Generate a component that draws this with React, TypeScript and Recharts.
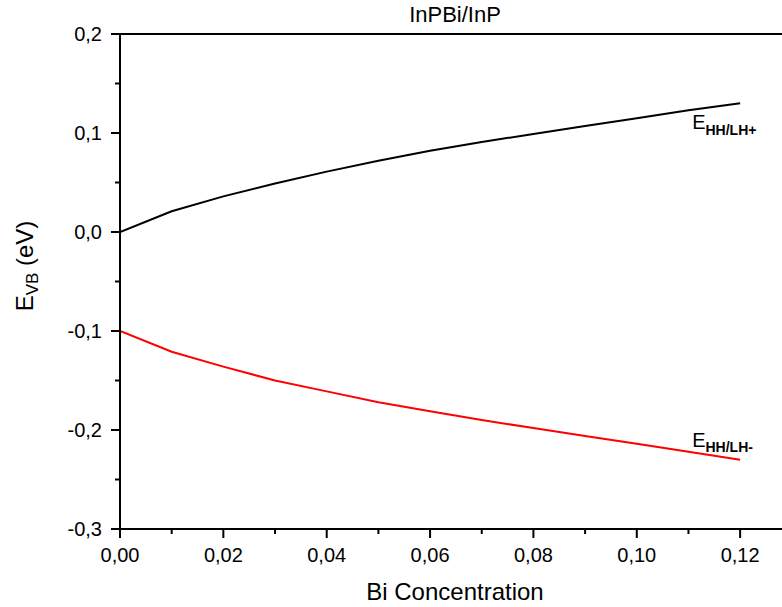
import React from 'react';
import { LineChart, Line, XAxis, YAxis, ReferenceLine, ReferenceDot } from 'recharts';

const biConcentration = [0, 0.01, 0.02, 0.03, 0.04, 0.05, 0.06, 0.07, 0.08, 0.09, 0.1, 0.11, 0.12];
const eHHLHPlus = [0, 0.021, 0.036, 0.049, 0.061, 0.072, 0.082, 0.091, 0.099, 0.107, 0.115, 0.123, 0.13];
const eHHLHMinus = [-0.1, -0.121, -0.136, -0.15, -0.161, -0.172, -0.181, -0.19, -0.198, -0.206, -0.214, -0.222, -0.23];

const xTicks = [0, 0.01, 0.02, 0.03, 0.04, 0.05, 0.06, 0.07, 0.08, 0.09, 0.1, 0.11, 0.12];
const yTicks = [-0.3, -0.25, -0.2, -0.15, -0.1, -0.05, 0, 0.05, 0.1, 0.15, 0.2];

const data = biConcentration.map((x, i) => ({
  x,
  plus: eHHLHPlus[i],
  minus: eHHLHMinus[i],
}));

const FONT = '"Liberation Sans", Arial, sans-serif';

const YTick = (props: any) => {
  const { x, y, payload } = props;
  const v = payload.value;
  const major = Math.abs(Math.round(v * 100)) % 10 === 0;
  return (
    <g>
      <line x1={x} y1={y} x2={x - (major ? 9 : 5)} y2={y} stroke="#000" strokeWidth={2} />
      {major && (
        <text x={x - 18} y={y + 7} textAnchor="end" fontSize={20} fontFamily={FONT} fill="#000">
          {v.toFixed(1).replace('.', ',')}
        </text>
      )}
    </g>
  );
};

const XTick = (props: any) => {
  const { x, y, payload } = props;
  const v = payload.value;
  const major = Math.round(v * 100) % 2 === 0;
  return (
    <g>
      <line x1={x} y1={y} x2={x} y2={y + (major ? 9 : 5)} stroke="#000" strokeWidth={2} />
      {major && (
        <text x={x} y={y + 33} textAnchor="middle" fontSize={20} fontFamily={FONT} fill="#000">
          {v.toFixed(2).replace('.', ',')}
        </text>
      )}
    </g>
  );
};

const curveLabel = (dy: number, subDy: number, sign: string) => (props: any) => {
  const { viewBox } = props;
  return (
    <text x={viewBox.x - 48} y={viewBox.y + dy} fontFamily={FONT} fill="#000" fontSize={20}>
      E
      <tspan dy={subDy} fontSize={14} fontWeight="bold">
        {'HH/LH' + sign}
      </tspan>
    </text>
  );
};

export default function App() {
  return (
    <div style={{ position: 'absolute', left: 0, top: 0, width: 782, height: 607, overflow: 'hidden', background: '#fff' }}>
      <LineChart width={782} height={607} data={data} margin={{ top: 34, right: 0, left: 0, bottom: 18 }}>
        <text x={455} y={22} textAnchor="middle" fontSize={22} fontFamily={FONT} fill="#000">
          InPBi/InP
        </text>
        <text x={455} y={600} textAnchor="middle" fontSize={24} fontFamily={FONT} fill="#000">
          Bi Concentration
        </text>
        <XAxis
          dataKey="x"
          type="number"
          domain={[0, 0.1281]}
          ticks={xTicks}
          interval={0}
          allowDataOverflow
          height={60}
          tickSize={0}
          tickMargin={0}
          tickLine={false}
          tick={<XTick />}
          axisLine={{ stroke: '#000', strokeWidth: 2 }}
        />
        <YAxis
          type="number"
          domain={[-0.3, 0.2]}
          ticks={yTicks}
          interval={0}
          width={120}
          tickSize={0}
          tickMargin={0}
          tickLine={false}
          tick={<YTick />}
          axisLine={{ stroke: '#000', strokeWidth: 2 }}
          label={{
            content: () => (
              <text
                x={33}
                y={266}
                transform="rotate(-90, 33, 266)"
                textAnchor="middle"
                fontSize={24}
                fontFamily={FONT}
                fill="#000"
              >
                E
                <tspan fontSize={17} dy={5}>VB</tspan>
                <tspan dy={-5}> (eV)</tspan>
              </text>
            ),
          }}
        />
        <ReferenceLine y={0.2} stroke="#000" strokeWidth={2} />
        <Line type="linear" dataKey="plus" stroke="#000" strokeWidth={2} dot={false} isAnimationActive={false} />
        <Line type="linear" dataKey="minus" stroke="#ff0000" strokeWidth={2} dot={false} isAnimationActive={false} />
        <ReferenceDot x={0.12} y={0.13} r={0} fill="none" stroke="none" label={{ content: curveLabel(26, 6, '+') }} />
        <ReferenceDot x={0.12} y={-0.23} r={0} fill="none" stroke="none" label={{ content: curveLabel(-13, 5, '-') }} />
      </LineChart>
    </div>
  );
}
